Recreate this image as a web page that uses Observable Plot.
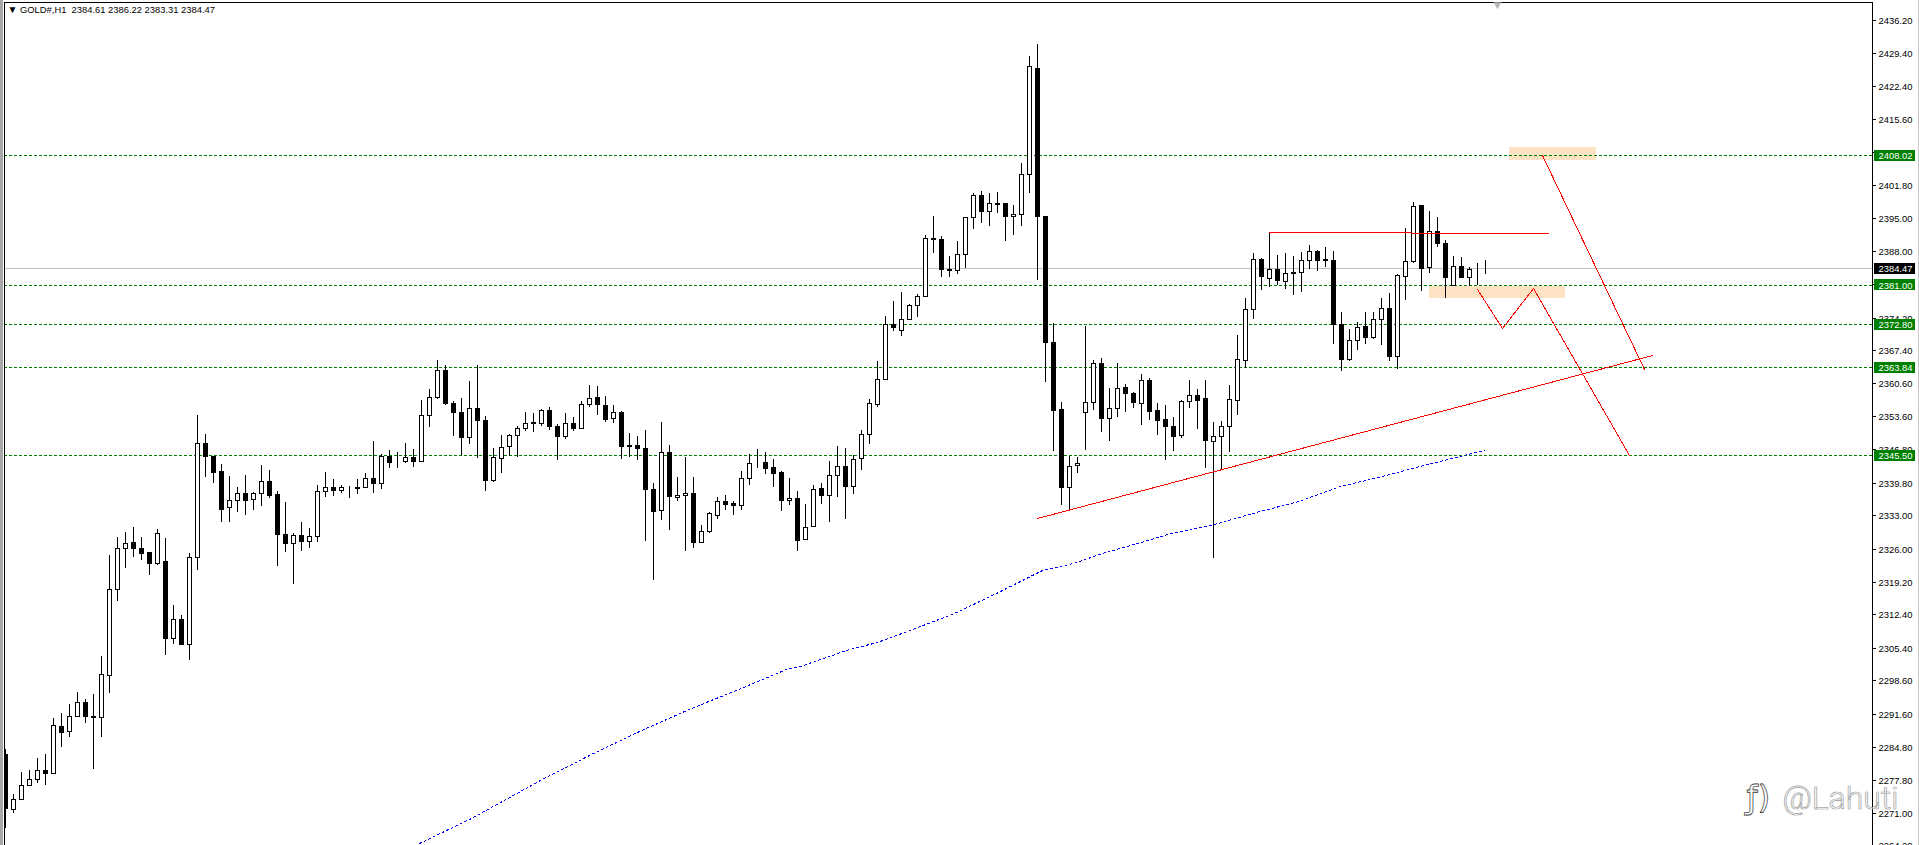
<!DOCTYPE html>
<html><head><meta charset="utf-8">
<script src="https://cdn.jsdelivr.net/npm/d3@7"></script>
<script src="https://cdn.jsdelivr.net/npm/@observablehq/plot@0.6"></script>
<style>
html,body{margin:0;padding:0;overflow:hidden;background:linear-gradient(to right,#a8a8a8 3px,#fff 3px,#fff 1918px,#c8c8c8 1918px)}
svg{display:block}
</style></head><body><div id="chart"></div>
<script>
const opens=[2283.2,2271.8,2273.8,2276.7,2278,2279.9,2279.2,2289,2288,2291.1,
2294,2291.1,2290.9,2299.7,2317.6,2326.1,2327.4,2326.1,2325.3,2323.1,
2323.4,2307.5,2311.3,2306.1,2324.3,2348,2345.4,2342.2,2334.7,2336.1,
2337.6,2336.3,2337.6,2340.1,2337.4,2329,2327.3,2328.8,2327.7,2328.6,
2338,2338.8,2338.3,2338.7,2338.8,2338.8,2340.7,2339.8,2345.3,2344.1,
2344.3,2345.1,2344.4,2354,2357.6,2363.2,2356.3,2354.5,2349.3,2355.3,
2352.8,2340.3,2344.9,2347.4,2349.7,2351.1,2352.4,2352.2,2354.9,2351.5,
2349.5,2352.2,2351.1,2356.1,2357.6,2355.9,2353.2,2354.5,2347.6,2347.6,
2347,2338.4,2334,2346.1,2336.8,2337.2,2337.6,2327.4,2329.7,2333,
2335.9,2335.5,2335.1,2340.7,2343.9,2344,2343,2342,2336.1,2336.5,
2328,2330.7,2338.6,2337.2,2341.3,2343.2,2339,2344.9,2349.9,2356.1,
2361.3,2372.9,2371.6,2373.9,2376.8,2378.6,2390.7,2390.5,2384.3,2384.1,
2387.4,2395.1,2399.7,2396.5,2398,2398,2395.3,2395.7,2404.1,2426.3,
2395.4,2369.2,2355.1,2338.8,2343.4,2354.5,2356.7,2364.7,2353.2,2355.4,
2359.7,2358.4,2356.5,2361.1,2354.9,2353,2351.5,2349.7,2356.8,2358,
2357.4,2348.4,2349.5,2351.5,2357,2365.3,2375.9,2386.3,2382.4,2384.3,
2381.8,2383.6,2383.6,2386.1,2388,2386.3,2386.1,2372.8,2365.5,2369.5,
2372.4,2370.1,2374,2376.1,2366.1,2382.8,2385.9,2397.6,2384.7,2392.2,
2389.7,2380.9,2384.9,2382.6,2384.5,2384.61];
const highs=[2284.3,2274.9,2279.5,2280,2282.4,2283.2,2290.7,2291.8,2293.6,2296.1,
2294.7,2295.7,2303.6,2324.7,2328.4,2329.5,2330.5,2328.4,2325.3,2330.1,
2328.2,2314.3,2312.2,2325.1,2353.9,2350,2345.4,2343.6,2341.1,2338.8,
2341.3,2337.8,2343.4,2342.4,2338,2335.7,2329.3,2331.5,2330.3,2339.3,
2342,2340.5,2339.3,2339,2340.5,2341.8,2348.4,2345.7,2346.5,2346.1,
2348,2346.8,2357,2359.3,2365.3,2364.3,2356.8,2357.4,2360.9,2364.3,
2353.6,2347,2349.7,2349.9,2351.5,2354.5,2354.3,2355.1,2355.5,2352,
2354.3,2353.4,2356.8,2360.1,2359.9,2357.8,2355.9,2354.7,2350.1,2349.5,
2350.7,2339.7,2352.4,2347.6,2340.9,2345.1,2340.9,2330.9,2333.6,2336.8,
2337.2,2335.9,2342.2,2345.7,2346.8,2346.1,2344.7,2342.2,2340.7,2338,
2335.3,2339.3,2339.7,2344.3,2347.4,2347,2345.5,2350.7,2357.2,2365.1,
2374.5,2377.7,2379.5,2377,2379.1,2391.3,2395.4,2391.1,2387,2390.1,
2395.1,2400.1,2400.5,2400.1,2400.3,2398,2397.6,2406.3,2428.8,2431.3,
2395.4,2373,2356.6,2345.4,2345.1,2372.4,2365.3,2365.7,2359.5,2364.7,
2360.3,2358.6,2362.4,2361.6,2356.3,2355.9,2353.4,2357,2361.1,2359.3,
2361.1,2352.4,2352.6,2360.1,2370.5,2378.2,2387.6,2386.6,2392,2387.2,
2387.6,2387,2387.8,2389.3,2388.2,2389,2388,2375.3,2371.8,2373.2,
2375.3,2375.3,2378.2,2379.3,2383.2,2392.8,2398.2,2397.6,2396.3,2395.1,
2390.3,2387,2386.8,2384.7,2385.5,2386.22];
const lows=[2267.8,2270.9,2273.7,2276.5,2277.3,2276.7,2279,2284.8,2286.7,2290.9,
2289.8,2280.2,2286.9,2295.9,2315.2,2322.1,2324.4,2323.6,2320.6,2322.7,
2303.8,2306.1,2306.1,2302.9,2321.5,2340.9,2339.8,2331.7,2331.7,2333.6,
2333.1,2334.2,2335,2336.5,2322.5,2325.4,2318.6,2325.6,2326.1,2327.5,
2336.9,2337.1,2337.7,2336.7,2337.5,2338.6,2337.7,2338.4,2342.9,2342.9,
2343.8,2343.1,2344.4,2351.3,2357.2,2355.9,2349.6,2345.5,2347.9,2345,
2338.1,2340,2341.9,2345.4,2345.2,2350.6,2350.4,2351.5,2350.7,2344.6,
2348.8,2350.6,2350.9,2355.6,2353.8,2352.5,2352.3,2344.8,2345.2,2344.6,
2327.7,2319.5,2332.1,2330,2335.9,2325.6,2326.1,2327.2,2329.4,2332.3,
2334.2,2333.1,2334,2339.4,2342.9,2341.5,2338.8,2333.8,2335.2,2325.6,
2327.9,2330.6,2335.4,2331.7,2336.9,2332.3,2337.5,2342.5,2347.9,2355.6,
2361.3,2371.4,2370.4,2373.8,2374.4,2378.6,2387.7,2382.7,2382.7,2383.2,
2384.5,2392.7,2394,2393.2,2395.9,2390.2,2391.5,2393.2,2400.1,2382.1,
2360.7,2346.3,2335.2,2333.8,2341.8,2346.7,2355,2350.4,2348.4,2353.4,
2354.6,2355.4,2351.9,2352.9,2349.8,2344.6,2346.3,2349.2,2355.4,2350.9,
2342.9,2324.2,2342.5,2346.1,2354,2363.6,2373.8,2380,2380.6,2380.9,
2380.1,2379,2379.5,2384.4,2384,2384.8,2368.6,2363,2365.1,2367.4,
2368.6,2369.7,2368.4,2365.2,2363.4,2377.8,2385.5,2379.7,2383.4,2388.8,
2378.2,2380.9,2382.4,2380.7,2380.9,2383.31];
const closes=[2272,2273.8,2276.7,2278,2279.9,2279.2,2289.3,2287.9,2291.1,2294,
2291.1,2290.9,2299.9,2317.6,2326.1,2327.2,2326.1,2325.2,2323.1,2329.3,
2307.5,2311.3,2306.1,2324.3,2348,2345.4,2342.1,2334.4,2336.1,2337.6,
2336.1,2337.6,2340.1,2337.3,2329,2327.3,2328.8,2327.7,2328.6,2338,
2338.8,2338.3,2338.8,2338.6,2338.6,2340.7,2339.8,2345.3,2344,2344,
2345.1,2344.4,2353.8,2357.6,2363.2,2356.3,2354.5,2349.3,2355.3,2352.8,
2340.3,2345.1,2347.2,2349.7,2351.1,2352.2,2352.2,2354.9,2351.5,2349.5,
2352.2,2351.1,2356.1,2357.4,2356.1,2353,2354.5,2347.5,2347.4,2347,
2338.4,2333.8,2346.1,2337,2337.2,2337.6,2327.4,2329.7,2333.4,2335.9,
2335.4,2335.2,2340.7,2343.8,2343.8,2342.9,2341.9,2336.1,2336.5,2327.9,
2330.6,2338.4,2337.2,2341.3,2343.2,2339,2344.7,2349.9,2356.3,2361.3,
2372.8,2372.3,2373.9,2376.8,2378.6,2390.7,2390.5,2384.3,2384.1,2387.4,
2395.1,2399.7,2396.5,2398,2397.9,2395.3,2395.7,2404.1,2426.6,2395.4,
2369.2,2355,2338.8,2343.2,2343.8,2356.7,2364.7,2353.2,2355.4,2359.5,
2358.4,2356.7,2361.1,2354.8,2352.9,2351.5,2349.6,2356.8,2358,2357.1,
2348.6,2349.5,2351.5,2357.2,2365.5,2375.9,2386.3,2382.9,2384.3,2382,
2383.4,2383.4,2386.1,2388,2386.1,2386.1,2372.8,2365.5,2369.5,2372.2,
2370.1,2373.8,2376.1,2366.1,2383,2385.9,2397.4,2384.5,2392.2,2389.7,
2382.6,2384.9,2382.6,2384.3,2384.5,2384.47];

const maBars=[51.8,58.2,66.9,73.05,79.2,85.75,92.3,97.6,99.4,105.5,109,113.8,118.65,123.9,129.6,133.55,137.1,141.45,145.8,151.1,156.35,161.6,166.9,172.1,178.3,184.9];
const maValues=[2264.7,2269.9,2277.9,2283.1,2288.1,2292.8,2297.3,2300.9,2301.5,2305.1,2306.7,2309.5,2312.6,2316.8,2321.5,2323.1,2325.1,2327.3,2329.3,2331.2,2333.6,2336,2339.1,2341.1,2343.8,2346.5];

const levels=[2408.02,2381.00,2372.80,2363.84,2345.50];
const lastPrice=2384.47;
const priceTicks=[2436.20,2429.40,2422.40,2415.60,2408.60,2401.80,2395.00,2388.00,2381.20,2374.20,2367.40,2360.60,2353.60,2346.80,2339.80,2333.00,2326.00,2319.20,2312.40,2305.40,2298.60,2291.60,2284.80,2277.80,2271.00,2264.20];

const zones=[{a:188,b:198.9,top:2409.7,bot:2407.0},{a:178,b:195.06,top:2380.8,bot:2378.3}];
const trendX=[129,205.9], trendY=[2332.4,2366.3];
const resistX=[158,192.9], resistY=[2392,2391.8];
const pathAX=[184,187.1,190.95,203], pathAY=[2380.2,2372,2380.45,2345.6];
const pathBX=[192.1,204.9], pathBY=[2408,2363.4];

const header="GOLD#,H1\u00a0\u00a02384.61 2386.22 2383.31 2384.47";
const watermark="@Lahuti", watermarkIcon="ƒ)";

const bars=opens.map((o,i)=>({i,o,h:highs[i],l:lows[i],c:closes[i]}));
const tagStart=233.6, tagEnd=238.75, tagText=234.1;
const font="'Liberation Sans',Arial,sans-serif";
const tags=[...levels.map(p=>({p,f:"#008000"})),{p:lastPrice,f:"#000"}];
const crisp={shapeRendering:"crispEdges",clip:true};
const lineOf=(X,Y,o)=>Plot.line(X.map((x,k)=>({x,y:Y[k]})),{x:"x",y:"y",...crisp,...o});

const plot=Plot.plot({
  width:1919,height:845,marginLeft:4,marginRight:47,marginTop:2,marginBottom:0,
  style:{background:"transparent",fontFamily:font,fontSize:"9.4px"},
  x:{domain:[-0.125,233.375],axis:null,round:true},
  y:{domain:[2264.3,2439.95],axis:null,round:true},
  color:{type:"identity"},
  marks:[
    Plot.rect(zones,{x1:"a",x2:"b",y1:"top",y2:"bot",fill:"#fde2c4",...crisp}),
    Plot.ruleY([lastPrice],{stroke:"#c0c0c0",...crisp}),
    Plot.ruleY(levels,{stroke:"#008000",strokeDasharray:"3,2",...crisp}),
    lineOf(maBars,maValues,{stroke:"#0000ff",strokeDasharray:"2,3",strokeWidth:1}),
    Plot.ruleX(bars,{x:"i",y1:"l",y2:"h",stroke:"#000",strokeWidth:1,...crisp}),
    Plot.rect(bars,{x1:d=>d.i-0.25,x2:d=>d.i+0.25,y1:"o",y2:"c",
      fill:d=>d.c>=d.o?"#fff":"#000",stroke:"#000",strokeWidth:1,...crisp}),
    lineOf(trendX,trendY,{stroke:"#ff0000",strokeWidth:1}),
    lineOf(resistX,resistY,{stroke:"#ff0000",strokeWidth:1}),
    lineOf(pathAX,pathAY,{stroke:"#ff0000",strokeWidth:1}),
    lineOf(pathBX,pathBY,{stroke:"#ff0000",strokeWidth:1}),
    Plot.axisY(priceTicks,{anchor:"right",tickSize:3,tickPadding:3,tickFormat:d3.format(".2f"),label:null,fontSize:9.4,stroke:"#000",fill:"#000"}),
    Plot.frame({anchor:"left",stroke:"#000"}),
    Plot.frame({anchor:"top",stroke:"#000"}),
    Plot.frame({anchor:"right",stroke:"#000"}),
    Plot.rect(tags,{x1:()=>tagStart,x2:()=>tagEnd,y1:d=>d.p+1.19,y2:d=>d.p-1.1,fill:"f",shapeRendering:"crispEdges"}),
    Plot.text(tags,{x:()=>tagText,y:"p",text:d=>d.p.toFixed(2),fill:"#fff",textAnchor:"start",fontSize:9.4}),
    Plot.text(["▼"],{frameAnchor:"top-left",dx:3,dy:3,textAnchor:"start",lineAnchor:"top",fontSize:10,fill:"#000"}),
    Plot.text([header],{frameAnchor:"top-left",dx:15.5,dy:4,textAnchor:"start",lineAnchor:"top",fontSize:9.4,fill:"#000"}),
    Plot.dot([{x:186.5,y:2439.6}],{x:"x",y:"y",symbol:"triangle",r:3,rotate:180,fill:"#b8b8b8",stroke:"none"}),
    Plot.text([watermarkIcon],{x:()=>217.6,y:()=>2274.2,fontFamily:"'DejaVu Sans'",fontSize:32,textAnchor:"start",fill:"#fff",fillOpacity:0.4,stroke:"#111",strokeWidth:0.8}),
    Plot.text([watermark],{x:()=>222.1,y:()=>2274.1,fontFamily:"Roboto",fontWeight:300,fontSize:32,textAnchor:"start",fill:"#fff",fillOpacity:0.35,stroke:"#888",strokeWidth:0.7})
  ]
});
document.getElementById("chart").append(plot);
</script></body></html>
